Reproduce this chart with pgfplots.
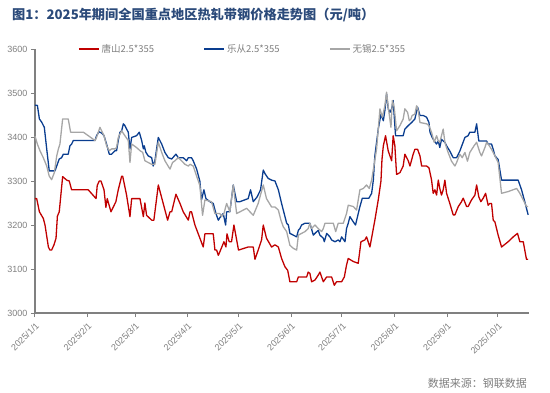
\documentclass[border=0pt]{standalone}
\usepackage{fontspec}
\setmainfont{Liberation Sans}
\newfontfamily\cjk{Noto Sans CJK SC}
\usepackage{pgfplots}
\pgfplotsset{compat=1.18}
\usetikzlibrary{calc}
\definecolor{cred}{HTML}{C00000}
\definecolor{cblue}{HTML}{0A3D8F}
\definecolor{cgray}{HTML}{A6A6A6}
\definecolor{ctitle}{HTML}{2B4A7A}
\definecolor{ctick}{HTML}{7F7F7F}
\definecolor{caxis}{HTML}{808080}
\begin{document}
\begin{tikzpicture}[x=1bp,y=1bp]
\begin{axis}[
 scale only axis, width=494bp, height=264bp,
 xmin=0, xmax=291.3, ymin=3000, ymax=3600,
 axis x line*=bottom, axis y line*=left,
 axis line style={caxis, line width=1.2bp, -},
 ytick={3000,3100,...,3600},
 xtick={0,31,59,90,120,151,181,212,243,273},
 xticklabels={2025/1/1,2025/2/1,2025/3/1,2025/4/1,2025/5/1,2025/6/1,2025/7/1,2025/8/1,2025/9/1,2025/10/1},
 tick align=outside, major tick length=4bp, tick style={caxis, line width=1bp},
 /pgf/number format/assume math mode=true,
 /pgf/number format/set thousands separator={},
 y tick label style={font=\fontsize{9bp}{10bp}\selectfont, text=ctick},
 x tick label style={font=\fontsize{9bp}{10bp}\selectfont, text=ctick, rotate=45, anchor=north east},
 legend style={at={(0.081,1)}, anchor=west, draw=none, fill=none, legend columns=3,
   font=\cjk\fontsize{9.5bp}{11bp}\selectfont, text=ctick},
 legend image code/.code={\draw[#1,line width=1.5bp] (0bp,0bp) -- (20bp,0bp);},
 every axis plot/.append style={line width=1.3bp, line join=round},
 clip=false,
]
\coordinate (LL) at (rel axis cs:0,0);
\addplot[cred] coordinates {
(0,3260)(1,3260)(2.6,3230)(4.9,3215)(5.9,3200)(7.9,3150)(8.8,3143)(9.8,3143)(11.2,3155)(12.4,3170)(13.2,3220)(14.3,3230)(16.3,3310)(18.7,3302)(20.2,3300)(21.6,3280)(26.5,3280)(31.4,3280)(36.0,3260)(36.7,3290)(37.9,3300)(38.9,3300)(40.7,3280)(41.8,3240)(42.6,3260)(44.8,3230)(47.7,3253)(49.1,3280)(51.1,3311)(51.7,3311)(54.0,3268)(56.0,3219)(57.0,3260)(61.9,3260)(63.9,3219)(64.8,3250)(65.8,3222)(68.8,3211)(70.1,3211)(72.7,3291)(75.6,3249)(78.2,3211)(79.6,3230)(80.6,3230)(83.1,3270)(85.5,3249)(87.4,3230)(90.4,3211)(91.4,3230)(92.3,3230)(94.3,3200)(99.2,3150)(100.2,3180)(105.1,3180)(106.1,3143)(107.1,3143)(108.1,3131)(109.0,3139)(111.4,3162)(112.6,3150)(113.2,3180)(114.5,3162)(115.9,3162)(117.3,3200)(120.0,3143)(125.7,3150)(128.7,3150)(129.7,3122)(131.6,3143)(133.6,3166)(134.6,3200)(136.5,3170)(139.5,3150)(141.5,3155)(143.5,3150)(145.4,3124)(147.4,3105)(149,3097)(150.3,3071)(154.3,3071)(155.3,3082)(160.2,3082)(161.1,3093)(162.1,3090)(163.1,3071)(165.1,3075)(167,3086)(168,3093)(169,3082)(170,3071)(172,3082)(174.9,3082)(176.5,3063)(177.8,3071)(180.8,3071)(182.4,3082)(183.7,3109)(184.7,3124)(187.7,3117)(190.6,3113)(192.2,3162)(194.5,3166)(195.5,3173)(197.5,3150)(199.5,3192)(200.4,3211)(202.4,3257)(204,3300)(204.6,3349)(205.4,3380)(206.7,3403)(208.3,3368)(210.3,3346)(211.2,3403)(212.2,3380)(213.2,3315)(215.2,3319)(217.1,3334)(218.1,3361)(220.1,3346)(221.1,3334)(223,3361)(224,3372)(225.6,3372)(227,3357)(228,3334)(230.9,3334)(232.3,3330)(233.8,3303)(234.8,3272)(235.8,3280)(236.8,3268)(237.8,3302)(238.7,3283)(239.7,3268)(240.7,3280)(241.7,3302)(242.7,3272)(244.6,3249)(246.6,3223)(247.6,3223)(249.6,3242)(251.5,3253)(252.5,3261)(254.5,3242)(255.4,3242)(257.4,3257)(259.4,3268)(260.4,3291)(261.7,3264)(262.9,3253)(264.3,3261)(265.7,3272)(267.2,3245)(268.2,3249)(269.2,3249)(270.2,3211)(271.2,3207)(273.1,3177)(275.1,3150)(279,3162)(282,3173)(284.5,3181)(285.9,3162)(287.9,3162)(289.8,3122)(290.8,3122)
};
\addlegendentry{\makebox[100bp][l]{唐山2.5*355}}
\addplot[cblue] coordinates {
(0,3472)(1.4,3472)(2.6,3441)(3.9,3434)(5.5,3422)(6.9,3373)(8.4,3323)(9.8,3323)(11.8,3323)(12.8,3334)(14.3,3350)(15.7,3353)(16.7,3361)(19.6,3361)(20.6,3380)(21.6,3384)(22.6,3392)(35.4,3392)(36.3,3403)(37.7,3412)(39.3,3409)(40.7,3403)(42.2,3384)(43.8,3361)(45.2,3361)(47.2,3369)(48.1,3369)(49.1,3392)(50.1,3411)(51.1,3414)(52.1,3430)(53,3426)(54,3418)(55,3411)(56,3373)(57,3399)(59.9,3403)(61.5,3411)(62.9,3392)(63.9,3373)(64.4,3380)(65.4,3365)(66.8,3357)(68.8,3353)(69.7,3334)(70.7,3346)(72.7,3399)(74.7,3384)(76.6,3365)(78.6,3353)(80.6,3350)(83.1,3361)(84.5,3353)(87.4,3353)(89.4,3346)(90.4,3353)(92.3,3353)(93.3,3346)(95.3,3327)(97.2,3300)(98.2,3257)(99.6,3280)(100.8,3260)(103.1,3253)(105.1,3249)(106.7,3226)(108.1,3211)(109.4,3219)(111,3226)(112.4,3200)(113,3230)(114.9,3230)(116.9,3291)(118.9,3253)(120.8,3253)(125.7,3260)(127.1,3280)(128.7,3253)(131,3264)(133,3280)(134.6,3325)(135.6,3317)(137.5,3306)(139.5,3302)(141.5,3300)(143.5,3280)(145.4,3249)(147.4,3219)(148.4,3204)(149.4,3200)(150.3,3181)(152.3,3177)(154.3,3173)(155.3,3188)(156.2,3192)(157.2,3200)(159.2,3204)(162.1,3204)(164.1,3177)(165.1,3181)(167,3188)(168,3177)(170,3170)(170.6,3162)(172,3181)(173.9,3173)(174.9,3166)(176.9,3162)(178.8,3166)(179.8,3162)(180.8,3173)(182.8,3162)(183.7,3192)(184.7,3204)(185.7,3219)(187.7,3207)(189,3200)(190.6,3226)(191.6,3242)(193,3261)(196.9,3261)(198.5,3272)(199.5,3302)(200.4,3357)(202.4,3418)(204,3452)(205.4,3437)(206.3,3460)(207.3,3498)(208.3,3464)(209.3,3456)(210.3,3464)(211.2,3483)(212.6,3403)(217.1,3403)(218.1,3418)(220.1,3426)(222.1,3433)(224,3441)(225.6,3468)(227,3449)(228.9,3449)(230.9,3445)(232.3,3433)(232.9,3411)(234.2,3399)(235.4,3391)(236.8,3384)(237.8,3391)(238.7,3376)(239.7,3395)(240.7,3391)(241.7,3388)(242.7,3380)(244.6,3368)(246.6,3353)(248.6,3353)(250.5,3368)(253.5,3399)(255.4,3403)(256.4,3411)(259.4,3411)(260.4,3430)(261.7,3391)(266.3,3391)(267.2,3384)(269.2,3384)(270.2,3372)(271.2,3357)(273.1,3349)(275.1,3302)(284.9,3302)(286.9,3280)(288.8,3253)(290.8,3223)
};
\addlegendentry{\makebox[100bp][l]{乐从2.5*355}}
\addplot[cgray] coordinates {
(0,3402)(1.4,3384)(2.9,3369)(4.9,3353)(6.9,3334)(8.4,3311)(9.8,3303)(11.4,3319)(12.8,3357)(13.8,3373)(14.7,3384)(16.3,3441)(19.6,3441)(21,3411)(28.5,3411)(31.4,3403)(35.4,3392)(36.3,3399)(38.3,3422)(39.3,3414)(40.7,3403)(42.2,3380)(43.8,3369)(45.2,3373)(47.2,3373)(48.1,3376)(49.1,3399)(51.1,3414)(53,3403)(55,3392)(56,3342)(57,3384)(59.9,3376)(61.9,3369)(63.5,3365)(64.8,3346)(66.8,3342)(68.8,3338)(70.7,3338)(72.7,3388)(74.7,3365)(76.6,3346)(79.6,3327)(81.1,3342)(82.5,3346)(84.5,3353)(86.4,3346)(88.4,3338)(90.4,3334)(91.4,3338)(93.3,3334)(95.3,3311)(97.2,3290)(98.8,3222)(100.2,3257)(104.1,3253)(106.1,3226)(109,3226)(110,3219)(111.4,3226)(113,3249)(114.9,3230)(116.9,3291)(118.9,3226)(124.8,3238)(128.7,3222)(131.6,3249)(134.6,3291)(136.5,3260)(139.5,3241)(141.5,3241)(143.5,3234)(145,3211)(146.4,3196)(148.4,3185)(150.3,3154)(152.3,3147)(154.3,3143)(155.3,3177)(157.2,3181)(159.2,3185)(161.1,3192)(162.1,3204)(163.1,3192)(165.1,3200)(167,3192)(169,3185)(170,3192)(171,3204)(175.9,3204)(177.3,3185)(178.8,3204)(181.8,3204)(183.7,3226)(184.7,3245)(187.7,3242)(189.6,3234)(191.6,3280)(193.6,3283)(195.5,3291)(197.1,3283)(198.5,3302)(201.4,3372)(203.4,3464)(204.8,3445)(206.3,3471)(207.3,3502)(208.3,3468)(209.9,3422)(210.7,3483)(211.8,3468)(213.2,3414)(215.2,3426)(217.1,3441)(218.1,3464)(219.7,3456)(220.7,3437)(221.7,3441)(222.4,3449)(224,3452)(225,3471)(226,3460)(227,3433)(230.9,3430)(232.3,3426)(233.8,3411)(235.4,3388)(236.8,3403)(237.8,3391)(238.7,3388)(239.7,3403)(240.7,3418)(241.7,3388)(243.3,3368)(245.6,3345)(247.6,3334)(248.6,3342)(250.5,3361)(251.9,3353)(253.5,3365)(255,3345)(256.4,3365)(258.9,3380)(260.4,3388)(262.3,3365)(263.3,3357)(265.3,3376)(266.3,3388)(267.2,3384)(269.2,3372)(271.2,3357)(273.1,3342)(275.1,3272)(279,3276)(284,3283)(285.9,3272)(287.9,3257)(289.8,3242)(290.8,3242)
};
\addlegendentry{\makebox[100bp][l]{无锡2.5*355}}
\end{axis}
\pgfresetboundingbox
\begin{scope}[shift={($(LL)+(-35bp,-79bp)$)}]
\useasboundingbox (0,0) rectangle (550,392);
\node[anchor=west,text=ctitle,font=\cjk\bfseries\fontsize{13.2bp}{15bp}\selectfont,inner sep=0pt] at (12,377) {图1：2025年期间全国重点地区热轧带钢价格走势图（元/吨）};
\node[anchor=east,text=ctick,font=\cjk\fontsize{11bp}{13bp}\selectfont,inner sep=0pt] at (527,9) {数据来源：钢联数据};
\end{scope}
\end{tikzpicture}
\end{document}
